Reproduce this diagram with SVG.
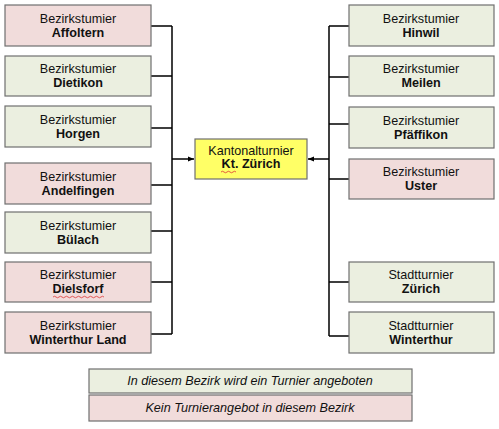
<svg xmlns="http://www.w3.org/2000/svg" width="499" height="429" viewBox="0 0 499 429">
<style>
.box{stroke:#6f6f6f;stroke-width:1.2}
.g{fill:#ebefe0}
.p{fill:#f1dcdb}
.y{fill:#ffff66}
text{font-family:"Liberation Sans",Arial,sans-serif;font-size:12.6px;fill:#111;text-anchor:middle}
.b{font-weight:bold}
.i{font-style:italic}
.ln{stroke:#000;stroke-width:1.5;fill:none}
.sp{stroke:#d33;stroke-width:0.8;fill:none}
</style>
<defs>
<marker id="ah" viewBox="0 0 10 10" refX="10" refY="5" markerWidth="6" markerHeight="6" orient="auto" markerUnits="userSpaceOnUse">
<path d="M0,1 L10,5 L0,9 z" fill="#000"/>
</marker>
</defs>
<rect width="499" height="429" fill="#fff"/>
<g id="connectors">
<path class="ln" d="M151,26 H172 M151,76 H172 M151,128 H172 M151,185 H172 M151,231 H172 M151,282 H172 M151,334 H172 M172,26 V334"/>
<path class="ln" d="M172,159 H194" marker-end="url(#ah)"/>
<path class="ln" d="M349,26 H329 M349,77 H329 M349,124 H329 M349,179 H329 M349,282 H329 M349,336 H329 M329,26 V336"/>
<path class="ln" d="M329,159 H308" marker-end="url(#ah)"/>
</g>
<g id="affoltern"><rect class="box p" x="5" y="5" width="146" height="41"/><text x="78" y="23">Bezirkstumier</text><text class="b" x="78" y="37">Affoltern</text></g>
<g id="dietikon"><rect class="box g" x="5" y="56" width="146" height="40"/><text x="78" y="73">Bezirkstumier</text><text class="b" x="78" y="87">Dietikon</text></g>
<g id="horgen"><rect class="box g" x="5" y="106" width="146" height="41"/><text x="78" y="124">Bezirkstumier</text><text class="b" x="78" y="138">Horgen</text></g>
<g id="andelfingen"><rect class="box p" x="5" y="163" width="146" height="41"/><text x="78" y="181">Bezirkstumier</text><text class="b" x="78" y="195">Andelfingen</text></g>
<g id="buelach"><rect class="box g" x="5" y="212" width="146" height="41"/><text x="78" y="230">Bezirkstumier</text><text class="b" x="78" y="244">Bülach</text></g>
<g id="dielsforf"><rect class="box p" x="5" y="262" width="146" height="40"/><text x="78" y="279">Bezirkstumier</text><text class="b" x="78" y="293">Dielsforf</text><path class="sp" d="M53,297 q1.5,-1.5 3,0 t3,0 t3,0 t3,0 t3,0 t3,0 t3,0 t3,0 t3,0 t3,0 t3,0 t3,0 t3,0 t3,0 t3,0 t3,0 t3,0"/></g>
<g id="winterthurland"><rect class="box p" x="5" y="312" width="146" height="41"/><text x="78" y="330">Bezirkstumier</text><text class="b" x="78" y="344">Winterthur Land</text></g>
<g id="kanton"><rect class="box y" x="195" y="139" width="112" height="40"/><text x="251" y="155">Kantonalturnier</text><text class="b" x="251" y="168">Kt. Zürich</text><path class="sp" d="M221,172 q1.5,-1.5 3,0 t3,0 t3,0 t3,0 t3,0"/></g>
<g id="hinwil"><rect class="box g" x="349" y="5" width="145" height="41"/><text x="421" y="23">Bezirkstumier</text><text class="b" x="421" y="37">Hinwil</text></g>
<g id="meilen"><rect class="box g" x="349" y="56" width="145" height="40"/><text x="421" y="73">Bezirkstumier</text><text class="b" x="421" y="87">Meilen</text></g>
<g id="pfaeffikon"><rect class="box g" x="349" y="107" width="145" height="41"/><text x="421" y="125">Bezirkstumier</text><text class="b" x="421" y="139">Pfäffikon</text></g>
<g id="uster"><rect class="box p" x="349" y="159" width="145" height="40"/><text x="421" y="176">Bezirkstumier</text><text class="b" x="421" y="190">Uster</text></g>
<g id="zuerich"><rect class="box g" x="349" y="262" width="145" height="40"/><text x="421" y="279">Stadtturnier</text><text class="b" x="421" y="293">Zürich</text></g>
<g id="winterthur"><rect class="box g" x="349" y="312" width="145" height="41"/><text x="421" y="330">Stadtturnier</text><text class="b" x="421" y="344">Winterthur</text></g>
<g id="legend">
<rect class="box g" x="89" y="369" width="323" height="24"/><text class="i" x="250" y="385">In diesem Bezirk wird ein Turnier angeboten</text>
<rect class="box p" x="89" y="395" width="323" height="26"/><text class="i" x="250" y="412">Kein Turnierangebot in diesem Bezirk</text>
</g>
</svg>
